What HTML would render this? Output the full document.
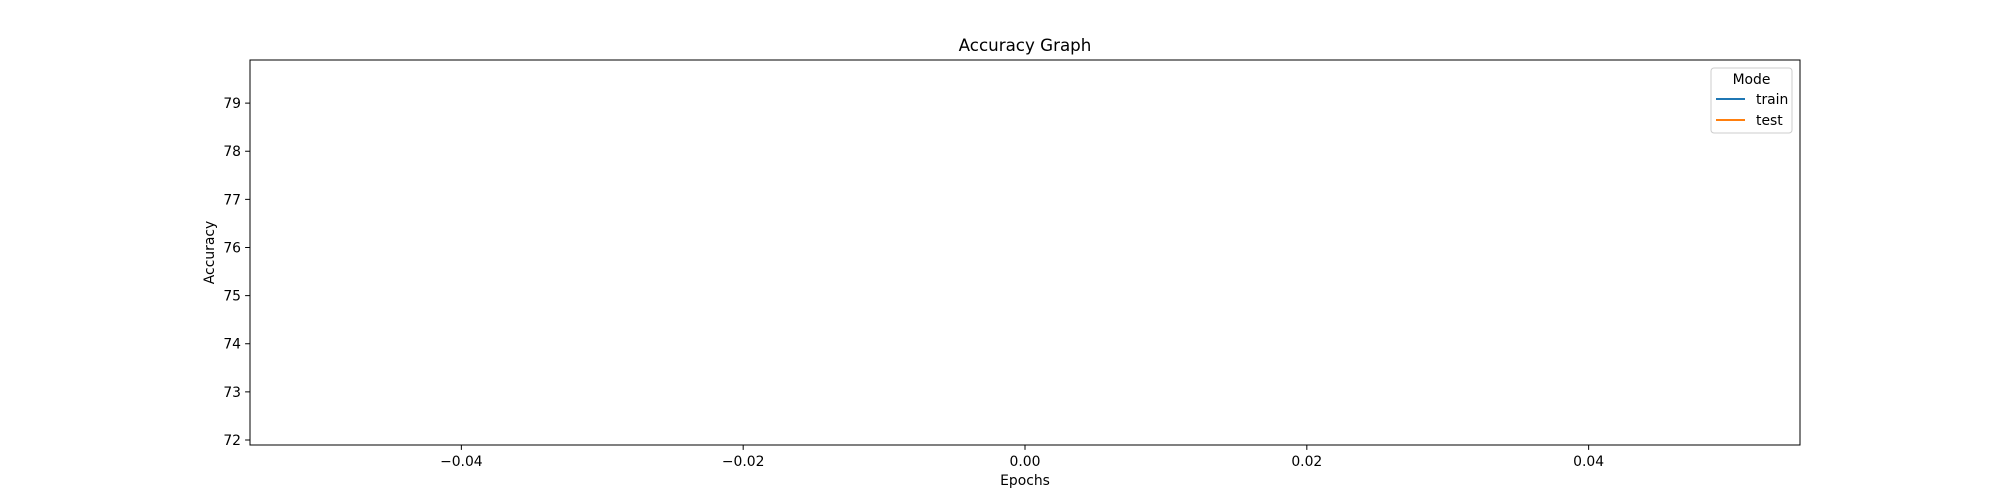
<!DOCTYPE html>
<html><head><meta charset="utf-8"><style>
html,body{margin:0;padding:0;background:#fff}
svg{display:block;font-family:"DejaVu Sans","Liberation Sans",sans-serif}
</style></head><body>
<svg id="chart" width="2000" height="500" viewBox="0 0 2000 500">
<rect width="2000" height="500" fill="#fff"/>
<text x="1025" y="51" font-size="16.7" text-anchor="middle">Accuracy Graph</text>
<g id="ticks"></g>
<g id="series"></g>
<rect x="250" y="60" width="1550" height="385" fill="none" stroke="#000" stroke-width="1"/>
<text x="1025" y="485" font-size="13.9" text-anchor="middle">Epochs</text>
<text transform="translate(214,252.5) rotate(-90)" font-size="13.9" text-anchor="middle">Accuracy</text>
<g>
<rect x="1711" y="68" width="81" height="65" rx="3" fill="#fff" fill-opacity="0.8" stroke="#ccc"/>
<text x="1751.5" y="84" font-size="13.9" text-anchor="middle">Mode</text>
<line x1="1716" y1="99" x2="1745" y2="99" stroke="#1f77b4" stroke-width="2"/>
<text x="1756" y="104" font-size="13.9">train</text>
<line x1="1716" y1="120" x2="1745" y2="120" stroke="#ff7f0e" stroke-width="2"/>
<text x="1756" y="125" font-size="13.9">test</text>
</g>
</svg>
<script>
const xTicks = [-0.04, -0.02, 0.00, 0.02, 0.04];
const xTickLabels = ["\u22120.04", "\u22120.02", "0.00", "0.02", "0.04"];
const yTicks = [72, 73, 74, 75, 76, 77, 78, 79];
const epochs = [0];
const trainAcc = [75.9];
const testAcc = [75.9];
const xMin = -0.055, xMax = 0.055, yMin = 71.896, yMax = 79.896;
const L = 250, R = 1800, T = 60, B = 445;
function sx(v){return L + (v - xMin) / (xMax - xMin) * (R - L);}
function sy(v){return B - (v - yMin) / (yMax - yMin) * (B - T);}
const NS = "http://www.w3.org/2000/svg";
const tg = document.getElementById('ticks');
xTicks.forEach((v, i) => {
  const x = sx(v);
  const l = document.createElementNS(NS, 'line');
  l.setAttribute('x1', x); l.setAttribute('x2', x); l.setAttribute('y1', B); l.setAttribute('y2', B + 4.9);
  l.setAttribute('stroke', '#000');
  
  
  tg.appendChild(l);
  const t = document.createElementNS(NS, 'text');
  t.setAttribute('x', x); t.setAttribute('y', B + 21); t.setAttribute('font-size', '13.9'); t.setAttribute('text-anchor', 'middle');
  t.textContent = xTickLabels[i];
  
  
  tg.appendChild(t);
});
yTicks.forEach(v => {
  const y = sy(v);
  const l = document.createElementNS(NS, 'line');
  l.setAttribute('x1', L - 4.9); l.setAttribute('x2', L); l.setAttribute('y1', y); l.setAttribute('y2', y);
  l.setAttribute('stroke', '#000');
  
  
  tg.appendChild(l);
  const t = document.createElementNS(NS, 'text');
  t.setAttribute('x', L - 9); t.setAttribute('y', y + 5); t.setAttribute('font-size', '13.9'); t.setAttribute('text-anchor', 'end');
  t.textContent = v;
  
  
  tg.appendChild(t);
});
const sg = document.getElementById('series');
[[trainAcc, '#1f77b4', 'train-line'], [testAcc, '#ff7f0e', 'test-line']].forEach(([vals, c, n]) => {
  const p = document.createElementNS(NS, 'polyline');
  p.setAttribute('points', epochs.map((e, i) => sx(e) + ',' + sy(vals[i])).join(' '));
  p.setAttribute('fill', 'none'); p.setAttribute('stroke', c); p.setAttribute('stroke-width', '2');
  
  
  sg.appendChild(p);
});
</script>
</body></html>
